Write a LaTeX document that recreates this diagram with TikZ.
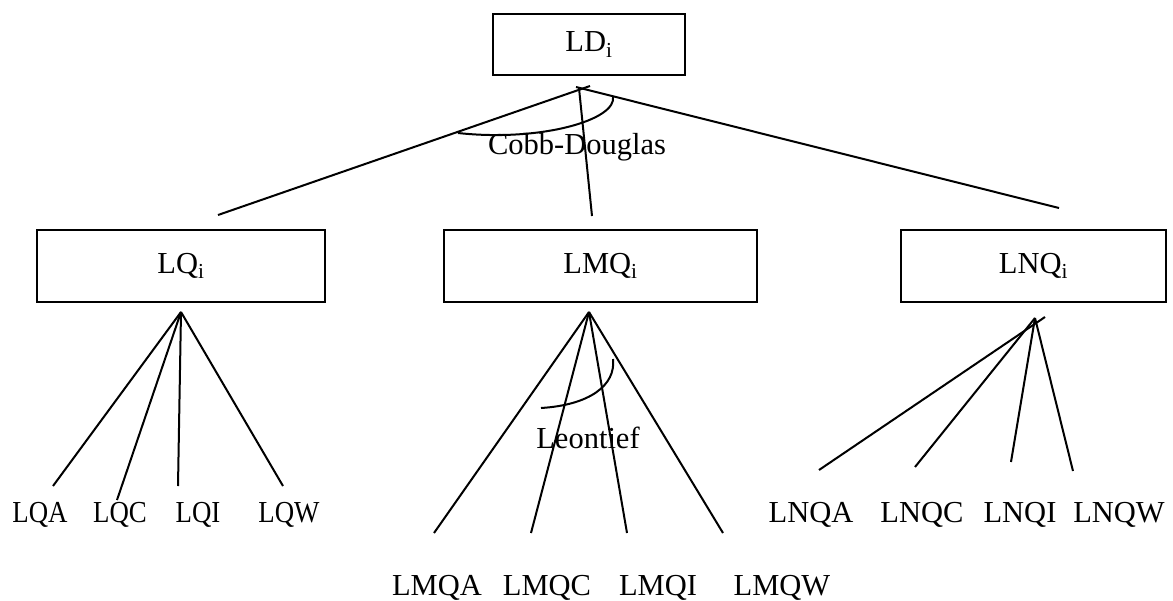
\documentclass[tikz,border=0pt]{standalone}
\usepackage{fontspec}
\setmainfont{Liberation Serif}
\begin{document}
\begin{tikzpicture}[x=1pt,y=-1pt,
  every node/.style={font=\fontsize{30.5}{36}\selectfont},
  box/.style={draw,line width=2pt,inner sep=0pt,minimum height=72pt},
  lab/.style={inner sep=0pt,anchor=base},
  conn/.style={line width=2pt},
  curveline/.style={line width=2pt}]
\useasboundingbox (0,0) rectangle (1173,600);
% boxes
\node[box,minimum width=192pt,minimum height=61pt] (LD) at (589,44.5) {LD\textsubscript{i}};
\node[box,minimum width=288pt] (LQ) at (181,266) {LQ\textsubscript{i}};
\node[box,minimum width=313pt] (LMQ) at (600.5,266) {LMQ\textsubscript{i}};
\node[box,minimum width=265pt] (LNQ) at (1033.5,266) {LNQ\textsubscript{i}};
% labels
\node[lab] (cd) at (577,154) {Cobb-Douglas};
\node[lab] (leo) at (588,448) {Leontief};
\node[lab] (LQA) at (40,522) {\scalebox{0.88}[1]{LQA}};
\node[lab] (LQC) at (120,522) {\scalebox{0.88}[1]{LQC}};
\node[lab] (LQI) at (198,522) {\scalebox{0.88}[1]{LQI}};
\node[lab] (LQW) at (289,522) {\scalebox{0.88}[1]{LQW}};
\node[lab] (LMQA) at (437,595) {LMQA};
\node[lab] (LMQC) at (547,595) {LMQC};
\node[lab] (LMQI) at (658,595) {LMQI};
\node[lab] (LMQW) at (782,595) {LMQW};
\node[lab] (LNQA) at (811,522) {LNQA};
\node[lab] (LNQC) at (922,522) {LNQC};
\node[lab] (LNQI) at (1020,522) {LNQI};
\node[lab] (LNQW) at (1119,522) {LNQW};
% top level connectors
\coordinate (ldleft) at (590,86);
\coordinate (ldright) at (576,87);
\coordinate (ldmid) at (579,88);
\coordinate (toLQ) at (218,215);
\coordinate (toLMQ) at (592,216);
\coordinate (toLNQ) at (1059,208);
\draw[conn] (ldleft) -- (toLQ);
\draw[conn] (ldmid) -- (toLMQ);
\draw[conn] (ldright) -- (toLNQ);
\coordinate (cdA) at (458,133);
\coordinate (cdB) at (613,96);
\draw[curveline] (cdA) .. controls (540,142) and (618,120) .. (cdB);
% LQ connectors
\coordinate (lqapex) at (181,312);
\coordinate (eLQA) at (53,486);
\coordinate (eLQC) at (117,500);
\coordinate (eLQI) at (178,486);
\coordinate (eLQW) at (283,486);
\foreach \e in {eLQA,eLQC,eLQI,eLQW} \draw[conn] (lqapex) -- (\e);
% LMQ connectors
\coordinate (lmqapex) at (589,312);
\coordinate (eLMQA) at (434,533);
\coordinate (eLMQC) at (531,533);
\coordinate (eLMQI) at (627,533);
\coordinate (eLMQW) at (723,533);
\foreach \e in {eLMQA,eLMQC,eLMQI,eLMQW} \draw[conn] (lmqapex) -- (\e);
\coordinate (leA) at (541,408);
\coordinate (leB) at (613,359);
\draw[curveline] (leA) .. controls (590,405) and (616,385) .. (leB);
% LNQ connectors
\coordinate (lnqapex) at (1035,318);
\coordinate (lnqover) at (1045,317);
\coordinate (eLNQA) at (819,470);
\coordinate (eLNQC) at (915,467);
\coordinate (eLNQI) at (1011,462);
\coordinate (eLNQW) at (1073,471);
\draw[conn] (lnqover) -- (eLNQA);
\foreach \e in {eLNQC,eLNQI,eLNQW} \draw[conn] (lnqapex) -- (\e);
\end{tikzpicture}
\end{document}
